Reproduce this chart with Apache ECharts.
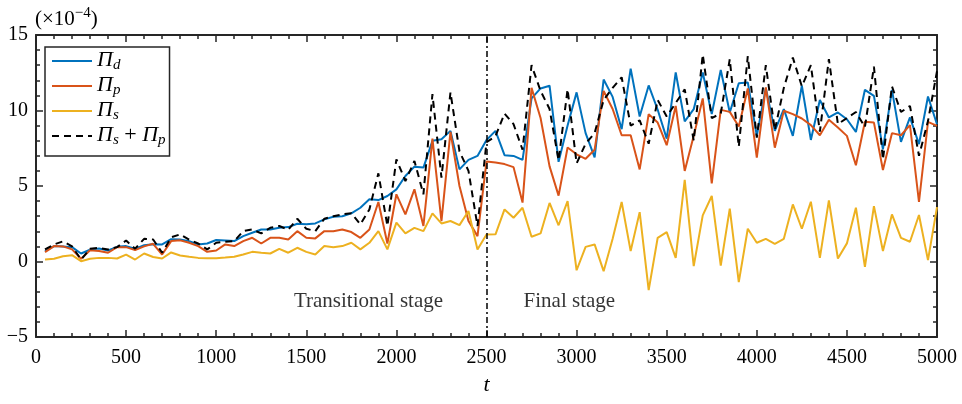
<!DOCTYPE html>
<html>
<head>
<meta charset="utf-8">
<script src="https://cdn.jsdelivr.net/npm/echarts@6/dist/echarts.min.js"></script>
<style>html,body{margin:0;padding:0;background:#fff;}#c{width:962px;height:404px;}</style>
</head>
<body>
<div id="c"></div>
<script>
const tVals = [50,100,150,200,250,300,350,400,450,500,550,600,650,700,750,800,850,900,950,1000,
1050,1100,1150,1200,1250,1300,1350,1400,1450,1500,1550,1600,1650,1700,1750,1800,1850,1900,1950,2000,
2050,2100,2150,2200,2250,2300,2350,2400,2450,2500,2550,2600,2650,2700,2750,2800,2850,2900,2950,3000,
3050,3100,3150,3200,3250,3300,3350,3400,3450,3500,3550,3600,3650,3700,3750,3800,3850,3900,3950,4000,
4050,4100,4150,4200,4250,4300,4350,4400,4450,4500,4550,4600,4650,4700,4750,4800,4850,4900,4950,5000];

const piD = [0.69,1.02,1.0,0.95,0.53,0.78,0.86,0.73,0.97,1.02,0.84,1.08,1.15,1.13,1.48,1.46,1.35,
1.13,1.19,1.42,1.39,1.35,1.68,1.9,2.12,2.12,2.23,2.28,2.5,2.46,2.52,2.79,2.96,
3.0,3.19,3.56,4.12,4.07,4.34,4.78,5.66,6.28,6.22,7.99,8.1,8.65,6.1,6.73,6.99,8.05,
8.65,7.04,6.99,6.73,10.8,11.46,11.64,6.6,9.0,11.2,8.5,6.9,12.05,10.9,8.76,12.77,9.6,
11.66,10.05,8.14,12.52,9.28,10.09,12.52,9.76,12.68,9.87,11.8,11.86,8.32,11.5,8.65,10.09,
8.32,11.64,8.05,10.7,9.54,9.87,9.42,8.58,11.37,10.97,7.43,11.37,7.92,9.54,7.77,10.93,9.09];

const piP = [0.62,1.02,1.0,0.8,0.18,0.75,0.7,0.58,0.95,0.95,0.75,1.0,1.17,0.46,1.35,1.4,1.24,
1.02,0.64,0.73,1.13,1.02,1.35,1.57,1.19,1.57,1.57,1.46,2.01,1.57,1.53,2.01,2.01,
2.12,1.95,1.57,2.12,3.94,1.19,4.45,3.12,4.78,2.35,8.14,2.68,8.58,5.0,2.68,1.68,6.62,
6.55,6.45,6.25,3.9,11.5,9.5,6.3,4.36,7.55,7.1,6.8,7.4,11.3,10.1,8.36,8.36,6.1,
9.76,9.2,7.7,10.3,6.0,8.32,10.8,5.18,10.04,9.91,8.94,11.46,6.88,11.53,7.54,9.98,
9.76,9.47,9.03,8.36,9.38,8.87,8.32,6.37,9.25,9.2,6.06,8.5,8.36,9.03,3.94,9.25,8.98];

const piS = [0.13,0.18,0.35,0.42,0.02,0.18,0.24,0.24,0.2,0.46,0.13,0.53,0.3,0.2,0.6,0.4,0.31,
0.24,0.22,0.22,0.26,0.31,0.46,0.64,0.58,0.53,0.84,0.58,0.91,0.64,0.46,1.02,0.95,
1.02,1.24,0.8,1.24,2.01,0.8,2.57,1.86,2.23,2.01,3.19,2.52,2.68,2.41,3.34,0.8,1.79,
1.8,3.45,2.9,3.56,1.64,1.86,3.88,2.4,4.0,-0.58,0.97,1.13,-0.64,1.5,3.94,0.69,3.27,
-1.9,1.57,1.95,0.24,5.4,-0.3,3.05,4.34,-0.27,3.5,-1.37,2.17,1.24,1.5,1.17,1.5,
3.78,2.17,3.96,0.24,4.05,0.2,1.2,3.56,-0.35,3.67,0.69,3.12,1.57,1.31,3.08,0.09,3.6];

const piSP = [0.8,1.13,1.33,1.0,0.13,0.84,0.9,0.8,0.95,1.39,0.85,1.5,1.46,0.58,1.6,1.8,1.45,
1.19,0.8,1.24,1.3,1.35,2.01,2.12,1.86,2.23,2.35,2.1,2.83,2.17,2.01,2.83,3.0,
3.12,3.2,2.46,3.45,5.84,2.35,6.77,5.33,6.66,4.45,11.08,5.55,11.2,7.3,6.0,2.35,7.9,
8.3,9.8,9.1,7.4,13.0,11.3,10.1,6.7,11.4,6.5,7.8,8.5,10.7,11.5,12.2,9.0,9.35,
7.8,10.7,9.6,10.5,11.4,8.0,13.7,9.5,9.8,13.4,7.6,13.6,8.2,13.0,8.7,11.5,
13.5,11.6,13.0,8.6,13.4,9.1,9.5,9.9,8.9,12.9,6.75,11.6,9.9,10.3,7.0,9.3,12.6];

const stageT = 2500;
const stageLabels = [
  {name: 'Transitional stage', t: 1845, v: -2.65},
  {name: 'Final stage', t: 2960, v: -2.65}
];
const xTicks = {min: 0, max: 5000, interval: 500};
const yTicks = {min: -5, max: 15, interval: 5};

const FONT = 'Liberation Serif';
const AX = '#262626';
function pairs(ys){ return tVals.map((t,i)=>[t, ys[i]]); }

const chart = echarts.init(document.getElementById('c'), null, {renderer:'canvas'});
const axisCommon = {
  axisLine: {show: true, onZero: false, lineStyle: {color: AX, width: 2}},
  axisTick: {show: true, inside: true, length: 7, lineStyle: {color: AX, width: 1.5}},
  minorTick: {show: true, splitNumber: 5, length: 4, lineStyle: {color: AX, width: 1.5}},
  splitLine: {show: false}
};
const legendRich = {
  p: {fontFamily: FONT, fontStyle: 'italic', fontSize: 22, color: '#000', verticalAlign: 'top', lineHeight: 20},
  s: {fontFamily: FONT, fontStyle: 'italic', fontSize: 15, color: '#000', verticalAlign: 'bottom', lineHeight: 24},
  o: {fontFamily: FONT, fontSize: 22, color: '#000', verticalAlign: 'top', lineHeight: 20}
};
const legendFmt = {
  'Πd': '{p|Π}{s|d}',
  'Πp': '{p|Π}{s|p}',
  'Πs': '{p|Π}{s|s}',
  'Πs+Πp': '{p|Π}{s|s}{o| + }{p|Π}{s|p}'
};

const option = {
  animation: false,
  backgroundColor: '#fff',
  grid: {left: 36, right: 25, top: 35, bottom: 67, containLabel: false},
  title: {
    text: '{a|(×10}{b|−4}{a|)}', left: 30, top: 1,
    textStyle: {fontWeight: 'normal', rich: {
      a: {fontFamily: FONT, fontWeight: 'normal', fontSize: 21, color: '#000', verticalAlign: 'bottom', lineHeight: 24},
      b: {fontFamily: FONT, fontWeight: 'normal', fontSize: 15, color: '#000', verticalAlign: 'top', padding: [0,0,9,0], lineHeight: 15}
    }}
  },
  legend: {
    data: ['Πd','Πp','Πs','Πs+Πp'],
    orient: 'vertical', left: 45, top: 47,
    itemWidth: 40, itemHeight: 14, itemGap: 1,
    padding: [2, 4, 8, 6],
    borderColor: AX, borderWidth: 1.5, backgroundColor: '#fff',
    itemStyle: {opacity: 0},
    formatter: n => legendFmt[n],
    textStyle: {rich: legendRich}
  },
  xAxis: [
    Object.assign({
      type: 'value', position: 'bottom', min: xTicks.min, max: xTicks.max, interval: xTicks.interval,
      name: 't', nameLocation: 'middle', nameGap: 37,
      nameTextStyle: {fontFamily: FONT, fontStyle: 'italic', fontSize: 22, color: '#000'},
      axisLabel: {fontFamily: FONT, fontSize: 20, color: '#000', margin: 11, formatter: v => String(v)}
    }, axisCommon),
    Object.assign({
      type: 'value', position: 'top', min: xTicks.min, max: xTicks.max, interval: xTicks.interval,
      axisLabel: {show: false}
    }, axisCommon)
  ],
  yAxis: [
    Object.assign({
      type: 'value', position: 'left', min: yTicks.min, max: yTicks.max, interval: yTicks.interval,
      axisLabel: {fontFamily: FONT, fontSize: 20, color: '#000', margin: 8,
        formatter: v => v < 0 ? '−' + Math.abs(v) : String(v)}
    }, axisCommon),
    Object.assign({
      type: 'value', position: 'right', min: yTicks.min, max: yTicks.max, interval: yTicks.interval,
      axisLabel: {show: false}
    }, axisCommon)
  ],
  series: [
    {name: 'Πd', type: 'line', data: pairs(piD), showSymbol: false, symbol: 'none',
     lineStyle: {color: '#0072BD', width: 2}, itemStyle: {color: '#0072BD'},
     markLine: {silent: true, symbol: 'none', label: {show: false},
       lineStyle: {color: '#000', width: 1.5, type: [6,3,2,3]},
       data: [{xAxis: stageT}]}},
    {name: 'Πp', type: 'line', data: pairs(piP), showSymbol: false, symbol: 'none',
     lineStyle: {color: '#D95319', width: 2}, itemStyle: {color: '#D95319'}},
    {name: 'Πs', type: 'line', data: pairs(piS), showSymbol: false, symbol: 'none',
     lineStyle: {color: '#EDB120', width: 2}, itemStyle: {color: '#EDB120'}},
    {name: 'Πs+Πp', type: 'line', data: pairs(piSP), showSymbol: false, symbol: 'none',
     lineStyle: {color: '#000', width: 2, type: [7,5]}, itemStyle: {color: '#000'}},
    {name: 'labels', type: 'scatter', symbolSize: 0, silent: true,
     data: stageLabels.map(s => ({value: [s.t, s.v], name: s.name})),
     label: {show: true, position: 'inside', formatter: p => p.name,
       fontFamily: FONT, fontSize: 21, color: '#000'}}
  ]
};
chart.setOption(option);
</script>
</body>
</html>
